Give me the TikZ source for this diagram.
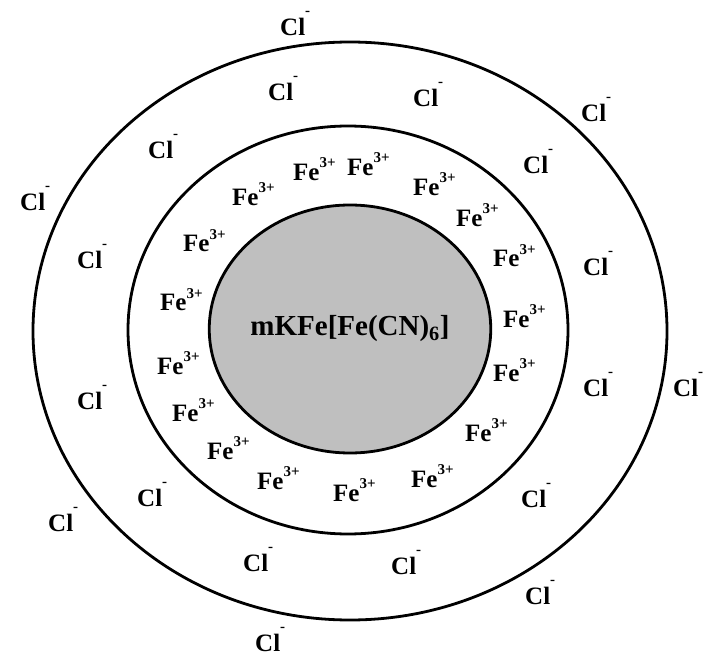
\documentclass[tikz,border=0pt]{standalone}
\usepackage{fontspec}
\setmainfont{Liberation Serif}
\usepackage{tikz}
\usetikzlibrary{shapes.geometric}

\newcommand{\fecharge}{\raisebox{13pt}{\fontsize{15}{15}\selectfont 3+}}
\newcommand{\clcharge}{\raisebox{20pt}{\fontsize{15}{15}\selectfont -}}

\begin{document}
\begin{tikzpicture}[
  x=1pt, y=-1pt,
  ring/.style={draw, line width=2.8pt},
  core/.style={draw, line width=2.8pt, ellipse, fill=black!25, inner sep=0pt,
               minimum width=274pt, minimum height=248pt,
               font=\fontsize{29}{32}\selectfont\bfseries},
  ion/.style={anchor=base west, inner sep=0pt,
              font=\fontsize{25}{28}\selectfont\bfseries}
]
  \useasboundingbox (0,0) rectangle (718,655);

  % shells
  \draw[ring] (350,331) ellipse [x radius=317pt, y radius=289pt];
  \draw[ring] (348,330) ellipse [x radius=220pt, y radius=204pt];
  \node[core] (core) at (350,329) {mKFe[Fe(CN)\textsubscript{6}]};

  % Fe3+ layer
  \node[ion] (fe1) at (293,181) {Fe\fecharge};
  \node[ion] (fe2) at (347,176) {Fe\fecharge};
  \node[ion] (fe3) at (413,196) {Fe\fecharge};
  \node[ion] (fe4) at (232,206) {Fe\fecharge};
  \node[ion] (fe5) at (456,227) {Fe\fecharge};
  \node[ion] (fe6) at (183,252) {Fe\fecharge};
  \node[ion] (fe7) at (493,267) {Fe\fecharge};
  \node[ion] (fe8) at (160,311) {Fe\fecharge};
  \node[ion] (fe9) at (503,327) {Fe\fecharge};
  \node[ion] (fe10) at (157,374) {Fe\fecharge};
  \node[ion] (fe11) at (493,381) {Fe\fecharge};
  \node[ion] (fe12) at (172,421) {Fe\fecharge};
  \node[ion] (fe13) at (465,441) {Fe\fecharge};
  \node[ion] (fe14) at (207,459) {Fe\fecharge};
  \node[ion] (fe15) at (257,489) {Fe\fecharge};
  \node[ion] (fe16) at (411,487) {Fe\fecharge};
  \node[ion] (fe17) at (333,501) {Fe\fecharge};

  % Cl- layer
  \node[ion] (cl1) at (280,36) {Cl\clcharge};
  \node[ion] (cl2) at (268,101) {Cl\clcharge};
  \node[ion] (cl3) at (413,107) {Cl\clcharge};
  \node[ion] (cl4) at (581,122) {Cl\clcharge};
  \node[ion] (cl5) at (148,159) {Cl\clcharge};
  \node[ion] (cl6) at (523,174) {Cl\clcharge};
  \node[ion] (cl7) at (20,211) {Cl\clcharge};
  \node[ion] (cl8) at (77,269) {Cl\clcharge};
  \node[ion] (cl9) at (583,276) {Cl\clcharge};
  \node[ion] (cl10) at (583,396) {Cl\clcharge};
  \node[ion] (cl11) at (673,396) {Cl\clcharge};
  \node[ion] (cl12) at (77,409) {Cl\clcharge};
  \node[ion] (cl13) at (137,506) {Cl\clcharge};
  \node[ion] (cl14) at (521,507) {Cl\clcharge};
  \node[ion] (cl15) at (48,531) {Cl\clcharge};
  \node[ion] (cl16) at (243,571) {Cl\clcharge};
  \node[ion] (cl17) at (391,574) {Cl\clcharge};
  \node[ion] (cl18) at (525,604) {Cl\clcharge};
  \node[ion] (cl19) at (255,651) {Cl\clcharge};
\end{tikzpicture}
\end{document}
